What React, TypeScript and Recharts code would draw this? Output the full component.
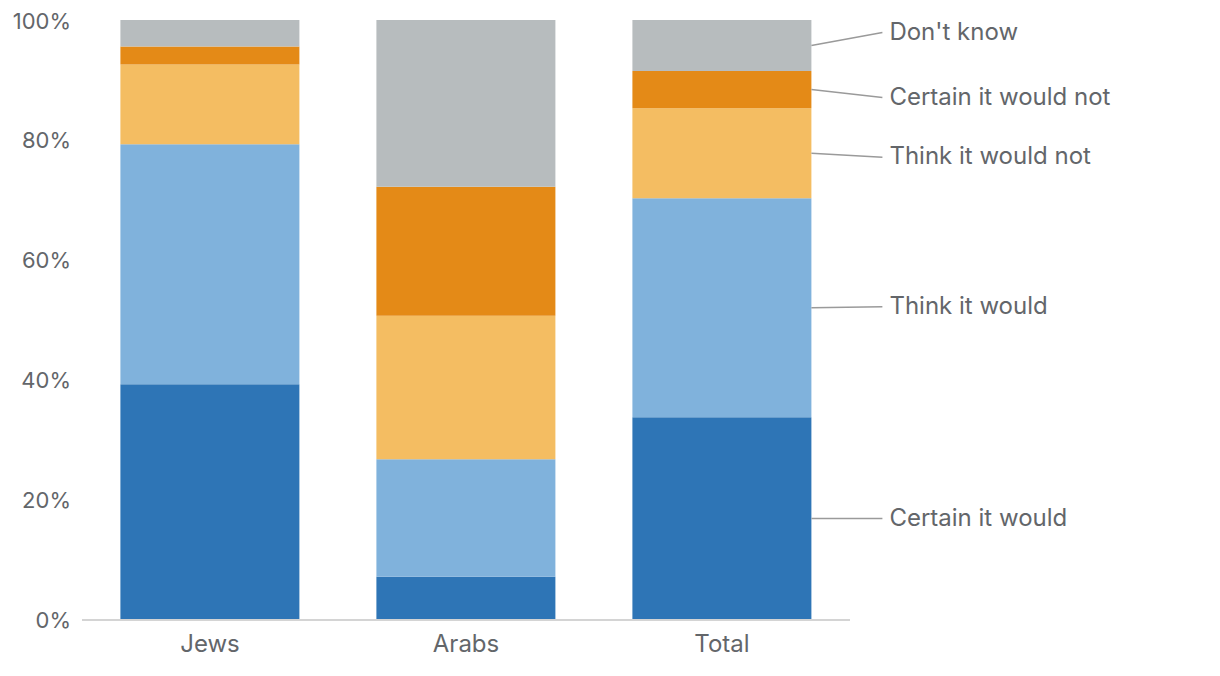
import React from "react";
import { BarChart, Bar, XAxis, YAxis } from "recharts";

const categories = ["Jews", "Arabs", "Total"];
const certainWould = [39.3, 7.2, 33.8];
const thinkWould = [40.0, 19.6, 36.5];
const thinkNot = [13.3, 23.9, 15.0];
const certainNot = [3.0, 21.5, 6.2];
const dontKnow = [4.4, 27.8, 8.5];
const yTicks = [0, 20, 40, 60, 80, 100];

const data = categories.map((c, i) => ({
  name: c,
  cw: certainWould[i],
  tw: thinkWould[i],
  tn: thinkNot[i],
  cn: certainNot[i],
  dk: dontKnow[i],
}));

const series = [
  { key: "cw", name: "Certain it would", color: "#2e75b6", labelShift: 0 },
  { key: "tw", name: "Think it would", color: "#80b2dc", labelShift: -1 },
  { key: "tn", name: "Think it would not", color: "#f4bd62", labelShift: 4 },
  { key: "cn", name: "Certain it would not", color: "#e48a17", labelShift: 8 },
  { key: "dk", name: "Don't know", color: "#b7bcbe", labelShift: -13 },
];

const FONT = "Inter, 'Noto Sans', sans-serif";
const TEXT = "#63666a";

const makeLabel = (name: string, shift: number) => (props: any) => {
  const { x, y, width, height, index } = props;
  if (index !== categories.length - 1) return null;
  const x0 = Number(x) + Number(width);
  const y0 = Number(y) + Number(height) / 2;
  const x1 = x0 + 71;
  const y1 = y0 + shift;
  return (
    <g>
      <line x1={x0} y1={y0} x2={x1} y2={y1} stroke="#9a9a9a" strokeWidth={1.5} />
      <text
        x={x1 + 7}
        y={y1}
        dy="0.3em"
        fill={TEXT}
        fontSize={24}
        fontFamily={FONT}
      >
        {name}
      </text>
    </g>
  );
};

export default function App() {
  return (
    <BarChart
      width={1204}
      height={660}
      data={data}
      margin={{ top: 12, right: 362, bottom: 0, left: 0 }}
      barCategoryGap="15%"
    >
      <XAxis
        dataKey="name"
        height={48}
        tickLine={false}
        axisLine={{ stroke: "#d4d4d4", strokeWidth: 2 }}
        tickMargin={9}
        tick={{ fill: TEXT, fontSize: 24, fontFamily: FONT }}
      />
      <YAxis
        width={74}
        domain={[0, 100]}
        ticks={yTicks}
        tickFormatter={(v: number) => `${v}%`}
        axisLine={false}
        tickLine={false}
        tickMargin={5}
        tick={{ fill: TEXT, fontSize: 22, fontFamily: FONT }}
      />
      {series.map((s) => (
        <Bar
          key={s.key}
          dataKey={s.key}
          name={s.name}
          stackId="a"
          fill={s.color}
          isAnimationActive={false}
          label={makeLabel(s.name, s.labelShift)}
        />
      ))}
    </BarChart>
  );
}
